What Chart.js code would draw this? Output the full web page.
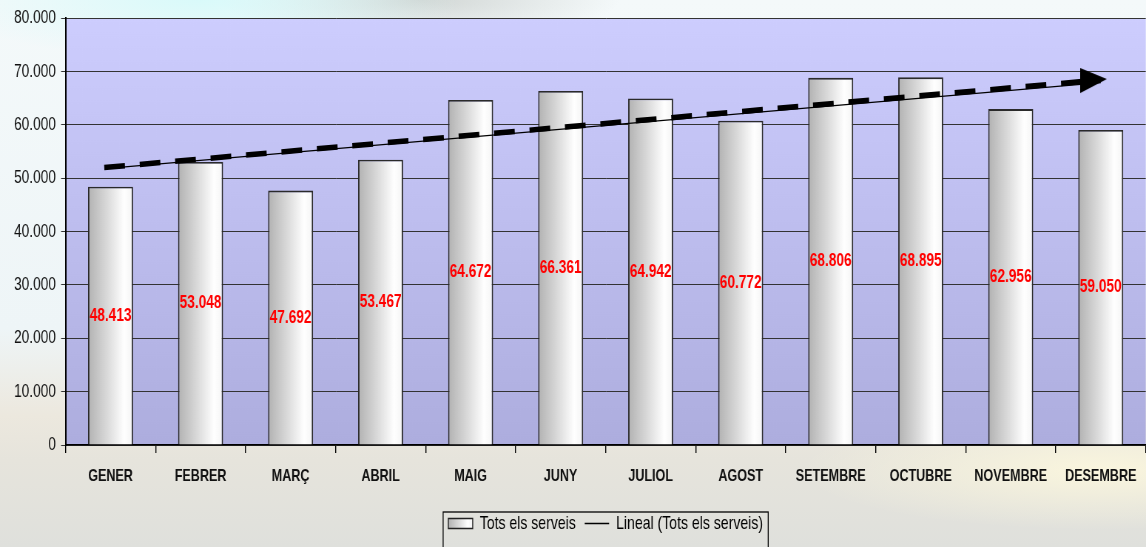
<!DOCTYPE html>
<html lang="ca">
<head>
<meta charset="UTF-8" />
<title>Tots els serveis</title>
<script src="https://cdn.jsdelivr.net/npm/chart.js@4.4.1/dist/chart.umd.min.js"></script>
<style>
	html, body { margin:0; padding:0; overflow:hidden; }
	body {
		width:1146px; height:547px;
		background:
			radial-gradient(ellipse 260px 60px at 200px 0px, rgba(210,250,250,0.8), rgba(210,250,250,0)),
			radial-gradient(ellipse 200px 40px at 420px 0px, rgba(175,180,175,0.5), rgba(175,180,175,0)),
			radial-gradient(ellipse 300px 60px at 1100px 470px, rgba(255,250,222,0.8), rgba(255,250,222,0)),
			linear-gradient(to bottom, #f4f9fa 0%, #eef5f7 60%, #ece8de 76%, #e6e4dc 84%, #dfe0dc 100%);
	}
	#chart { display:block; }
</style>
</head>
<body>
<canvas id="chart" height="547" style="width:1146px;height:547px"></canvas>
<script>
	// values
	const months = ['GENER', 'FEBRER', 'MARÇ', 'ABRIL', 'MAIG', 'JUNY', 'JULIOL', 'AGOST', 'SETEMBRE', 'OCTUBRE', 'NOVEMBRE', 'DESEMBRE'];
	const totals = [48413, 53048, 47692, 53467, 64672, 66361, 64942, 60772, 68806, 68895, 62956, 59050];
	const seriesName = 'Tots els serveis';
	const trendName = 'Lineal (Tots els serveis)';
	// trend line ends (category index, value)
	const trendX = [0, 11];
	const trendY = [51900, 67900];
	// dashed arrow ends
	const arrowX = [-0.07, 10.92];
	const arrowY = [52000, 68300];

	// the original picture is condensed horizontally, so draw wider and squeeze
	const SQUISH = 0.74;
	const FONT = '"Liberation Sans", Arial, sans-serif';

	const canvas = document.getElementById('chart');
	canvas.width = Math.round(1146 / SQUISH);

	function fmt(v)
	{
		return String(v).replace(/\B(?=(\d{3})+(?!\d))/g, '.');
	}

	function cylinder(ctx, x0, x1)
	{
		const g = ctx.createLinearGradient(x0, 0, x1, 0);
		g.addColorStop(0, '#b2b2b2');
		g.addColorStop(0.45, '#dcdcdc');
		g.addColorStop(0.8, '#ffffff');
		g.addColorStop(1, '#f4f4f4');
		return g;
	}

	function barFill(context)
	{
		const chart = context.chart;
		const xs = chart.scales.x;
		if (!chart.chartArea || !xs || context.type !== 'data') return '#dddddd';
		const cx = xs.getPixelForValue(context.dataIndex);
		const half = xs.width / months.length * 0.25;
		return cylinder(chart.ctx, cx - half, cx + half);
	}

	function arrowHead()
	{
		const c = document.createElement('canvas');
		c.width = 36; c.height = 27;
		const g = c.getContext('2d');
		g.fillStyle = '#000';
		g.beginPath();
		g.moveTo(0, 1);
		g.lineTo(36, 12);
		g.lineTo(0, 26);
		g.closePath();
		g.fill();
		return c;
	}

	//plot background + legend swatch
	const plotBack = {
		id: 'plotBack',
		beforeDraw(chart) {
			const {ctx, chartArea: a} = chart;
			const g = ctx.createLinearGradient(0, a.top, 0, a.bottom);
			g.addColorStop(0, '#cdcdfe');
			g.addColorStop(1, '#adadde');
			ctx.save();
			ctx.fillStyle = g;
			ctx.fillRect(a.left, a.top, a.right - a.left, a.bottom - a.top);
			ctx.restore();

			const lg = chart.legend;
			if (lg && lg.legendHitBoxes && lg.legendHitBoxes.length) {
				const hb = lg.legendHitBoxes[0];
				lg.legendItems[0].fillStyle = cylinder(ctx, hb.left, hb.left + 33);
			}
		}
	};

	//red values in the middle of the bars
	const barLabels = {
		id: 'barLabels',
		afterDatasetsDraw(chart) {
			const meta = chart.getDatasetMeta(0);
			const c = chart.ctx;
			c.save();
			c.font = 'bold 18.5px ' + FONT;
			c.fillStyle = '#ff0000';
			c.textAlign = 'center';
			c.textBaseline = 'middle';
			meta.data.forEach((bar, i) => {
				c.fillText(fmt(totals[i]), bar.x, (bar.y + bar.base) / 2);
			});
			c.restore();
		}
	};

	//frame around the legend
	const legendFrame = {
		id: 'legendFrame',
		afterDraw(chart) {
			const boxes = chart.legend && chart.legend.legendHitBoxes;
			if (!boxes || !boxes.length) return;
			const first = boxes[0], last = boxes[boxes.length - 1];
			const x0 = first.left - 7;
			const x1 = last.left + last.width + 7;
			const y0 = first.top - 2;
			const c = chart.ctx;
			c.save();
			c.strokeStyle = '#000';
			c.lineWidth = 1.3;
			c.strokeRect(x0, y0, x1 - x0, chart.height + 5 - y0);
			c.restore();
		}
	};

	Chart.defaults.font.family = FONT;

	new Chart(canvas, {
		type: 'bar',
		data: {
			labels: months,
			datasets: [
				{
					type: 'bar',
					label: seriesName,
					data: totals,
					backgroundColor: barFill,
					borderColor: '#2a2a2a',
					borderWidth: 1.9,
					grouped: false,
					barPercentage: 0.5,
					categoryPercentage: 1,
					order: 3
				},
				{
					type: 'line',
					label: trendName,
					parsing: false,
					data: trendX.map((x, i) => ({x: x, y: trendY[i]})),
					borderColor: '#000',
					borderWidth: 1.3,
					pointRadius: 0,
					fill: false,
					order: 2
				},
				{
					type: 'line',
					label: 'arrow',
					parsing: false,
					data: arrowX.map((x, i) => ({x: x, y: arrowY[i]})),
					borderColor: '#000',
					borderWidth: 5.5,
					borderDash: [28, 20],
					borderCapStyle: 'butt',
					pointRadius: [0, 1],
					pointStyle: arrowHead(),
					pointBorderWidth: 0,
					fill: false,
					order: 1
				}
			]
		},
		options: {
			responsive: false,
			devicePixelRatio: 1,
			animation: false,
			events: [],
			layout: { autoPadding: false, padding: { top: 14, left: 12, right: -4, bottom: 4 } },
			scales: {
				x: {
					type: 'category',
					offset: true,
					ticks: { color: '#111', font: { size: 17, weight: 'bold' }, padding: 13, maxRotation: 0, autoSkip: false },
					grid: { offset: true, drawOnChartArea: false, drawTicks: true, tickLength: 8, color: '#000', lineWidth: 1.4 },
					border: { color: '#000', width: 1.5 },
					afterFit(s) { s.height = 57; }
				},
				y: {
					min: 0,
					max: 80000,
					ticks: { stepSize: 10000, callback: v => fmt(v), color: '#111', font: { size: 18.5 }, padding: 7 },
					grid: { color: '#333', lineWidth: 1, tickLength: 6 },
					border: { color: '#000', width: 2 }
				}
			},
			plugins: {
				tooltip: { enabled: false },
				legend: {
					position: 'bottom',
					fullSize: false,
					labels: {
						usePointStyle: true,
						pointStyleWidth: 33,
						boxHeight: 10,
						padding: 12,
						color: '#000',
						font: { size: 19 },
						generateLabels: () => [
							{ text: seriesName, datasetIndex: 0, pointStyle: 'rect', fillStyle: '#dddddd', strokeStyle: '#222', lineWidth: 1.4, hidden: false, fontColor: '#000' },
							{ text: trendName, datasetIndex: 1, pointStyle: 'line', fillStyle: '#000', strokeStyle: '#000', lineWidth: 1.4, hidden: false, fontColor: '#000' }
						]
					}
				}
			}
		},
		plugins: [plotBack, barLabels, legendFrame]
	});
</script>
</body>
</html>
